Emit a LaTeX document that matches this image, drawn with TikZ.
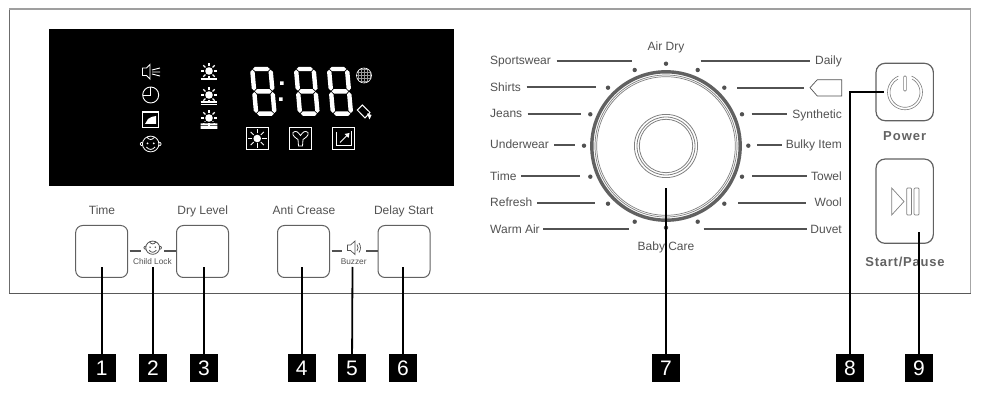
\documentclass[tikz,border=0pt]{standalone}
\usepackage{fontspec}
\setmainfont{Liberation Sans}
\newcommand{\fs}[1]{\fontsize{#1}{#1}\selectfont}
\definecolor{ink}{gray}{0.32}
\definecolor{rim}{gray}{0.38}
\tikzset{
 lab/.style={inner sep=0pt,text=ink,font=\fs{12},anchor=base},
 labl/.style={lab,anchor=base west},
 labr/.style={lab,anchor=base east},
 tick/.style={draw=ink,line width=2pt},
 keybox/.style={draw=rim,line width=1pt,rounded corners=7pt,fill=white,inner sep=0pt},
 tagbox/.style={fill=black,text=white,minimum size=28pt,inner sep=0pt,font=\fs{21}},
 lead/.style={draw=black,line width=1.8pt},
 dialdot/.style={fill=ink,circle,inner sep=0pt,minimum size=4.4pt},
 lcd/.style={draw=white,line width=0.9pt},
}
% sun icon: x,y,body radius,ray outer radius,ray width
\newcommand{\sunicon}[5]{%
 \fill[white] (#1,#2) circle (#3);
 \foreach \a in {0,45,...,315}{\draw[white,line width=#5pt] (#1,#2) ++(\a:#3+1.2) -- ++(\a:#4-#3-1.2);}
}
% baby face
\newcommand{\babyface}[4]{%
 \begin{scope}[shift={(#1,#2)},scale=#3]
 \draw[#4,line width=0.8pt] (0,0) ellipse (6.6 and 6.3);
 \draw[#4,line width=0.8pt] (-6.4,-1.5) .. controls (-9,-1.5) and (-9,1.5) .. (-6.4,1.5);
 \draw[#4,line width=0.8pt] (6.4,-1.5) .. controls (9,-1.5) and (9,1.5) .. (6.4,1.5);
 \draw[#4,line width=0.8pt] (-3.5,2.4) .. controls (-1,5) and (1,5) .. (3.5,2.4);
 \fill[#4] (-2.5,-0.5) circle (0.8) (2.5,-0.5) circle (0.8);
 \draw[#4,line width=0.8pt] (-3,-5.4) .. controls (-1,-3) and (1,-3) .. (3,-5.4);
 \end{scope}}
% seven segment 8
\def\segt{2.2}
\newcommand{\hseg}[3]{\fill[white] (#1,#3) -- (#1+\segt,#3-\segt) -- (#2-\segt,#3-\segt) -- (#2,#3) -- (#2-\segt,#3+\segt) -- (#1+\segt,#3+\segt) -- cycle;}
\newcommand{\vseg}[3]{\fill[white] (#1,#2) -- (#1+\segt,#2+\segt) -- (#1+\segt,#3-\segt) -- (#1,#3) -- (#1-\segt,#3-\segt) -- (#1-\segt,#2+\segt) -- cycle;}
\newcommand{\eight}[4]{% x,y,w,h
 \begin{scope}[shift={(#1,#2)},xslant=-0.09]
 \def\w{#3}\def\h{#4}\def\g{0.7}
 \hseg{\g}{\w-\g}{0}
 \hseg{\g}{\w-\g}{\h/2}
 \hseg{\g}{\w-\g}{\h}
 \vseg{0}{\g}{\h/2-\g}
 \vseg{\w}{\g}{\h/2-\g}
 \vseg{0}{\h/2+\g}{\h-\g}
 \vseg{\w}{\h/2+\g}{\h-\g}
 \end{scope}}
% dial option: name, label, anchor kind, label x, y, tick start, tick end, dot x, dot y
\newcommand{\opt}[9]{%
 \node[#3] (#1) at (#4,#5+4) {#2};
 \coordinate (#1a) at (#6,#5);
 \coordinate (#1b) at (#7,#5);
 \draw[tick] (#1a) -- (#1b);
 \node[dialdot] (#1d) at (#8,#9) {};
}
\begin{document}
\begin{tikzpicture}[x=1pt,y=-1pt]
\useasboundingbox (0,0) rectangle (985,403);
\fill[white] (0,0) rectangle (985,403);
% panel outline
\draw[gray!85!black,line width=0.7pt] (9,293.3) -- (9,9);
\draw[gray!75,line width=1.4pt] (9,9) -- (970.7,9);
\draw[gray!70,line width=1.2pt] (970.7,9) -- (970.7,293.3);
\draw[gray!70!black,line width=0.8pt] (9,293.3) -- (970.7,293.3);
% display
\fill[black] (49,29) rectangle (453.7,186);
% left icons
\draw[lcd] (142.5,68) -- (146.5,68) -- (150,64.5) -- (150,79) -- (146.5,75.5) -- (142.5,75.5) -- cycle;
\draw[lcd] (152,70) -- (160,68) (152,72) -- (160,72) (152,74) -- (160,76);
\draw[lcd] (150.7,95) circle (8);
\draw[lcd] (150.7,87) -- (150.7,95) -- (142.7,95);
\draw[lcd,line width=1.1pt] (142.5,112) rectangle (158.8,127.5);
\fill[white] (145,124) -- (148,119) .. controls (151,117) and (154,116) .. (156,116) -- (156,124) -- cycle;
\babyface{150.7}{144}{1.25}{white}
% sun levels
\sunicon{209}{71}{3.8}{8}{1.1}
\draw[white,line width=1.1pt] (200.7,79) -- (217.3,79);
\sunicon{209}{95}{3.8}{8}{1.1}
\draw[white,line width=1.2pt] (200.7,102) -- (217.3,102) (200.7,104.8) -- (217.3,104.8);
\sunicon{209}{118}{3.8}{8}{1.1}
\fill[black] (199,122) rectangle (219,123);
\fill[white] (200.7,123.3) rectangle (217.3,124.8) (200.7,125.6) rectangle (217.3,129);
% digits
\eight{252.2}{69}{18.3}{44.7}
\eight{296}{69}{17.6}{44.7}
\eight{329}{69}{18}{44.7}
\fill[white] (280,81.5) rectangle (283.5,85) (279,97.5) rectangle (282.5,101);
% globe
\begin{scope}[shift={(364,75.5)}]
\begin{scope}
\clip (0,0) circle (7.5);
\foreach \k in {-6,-3,0,3,6}{\draw[gray!80,line width=0.45pt] (\k,-8) -- (\k,8) (-8,\k) -- (8,\k);}
\end{scope}
\draw[white,line width=0.6pt] (0,0) circle (7.5);
\end{scope}
% softener-like icon
\draw[lcd,line width=1pt] (357.3,110) -- (362.3,105) -- (370,112.5) -- (365,118) -- cycle;
\fill[white] (367,113.5) -- (371.5,115) -- (369.5,119.5) -- cycle;
% mode boxes
\draw[lcd] (246,127.7) rectangle (268.3,149.5);
\sunicon{257.2}{138.5}{3.8}{9.3}{0.8}
\draw[lcd] (289.3,127.7) rectangle (311.7,149.5);
\draw[lcd,line width=0.8pt] (293,132.5) .. controls (296,130) and (298,132) .. (300.5,135.5) .. controls (303,132) and (305,130) .. (308,132.5) .. controls (309,136) and (305,138) .. (303,139.5) -- (302.5,146) -- (298.5,146) -- (298,139.5) .. controls (296,138) and (292,136) .. (293,132.5) -- cycle;
\draw[lcd] (332.3,127.7) rectangle (354.7,149.5);
\draw[lcd,line width=0.8pt] (336,132) -- (336,145.5) -- (351,145.5) -- (351,131);
\draw[lcd,line width=0.9pt] (340,142.5) -- (348,134.5);
\fill[white] (349.5,133) -- (344.5,134) -- (348.5,138) -- cycle;
% buttons
\node[keybox,minimum width=52pt,minimum height=52pt] (k1) at (101.7,251.5) {};
\node[keybox,minimum width=52pt,minimum height=52pt] (k3) at (202.5,251.5) {};
\node[keybox,minimum width=52pt,minimum height=52pt] (k4) at (303.5,251.5) {};
\node[keybox,minimum width=52pt,minimum height=52pt] (k6) at (404,251.5) {};
\node[lab] (t1) at (102,215) {Time};
\node[lab] (t3) at (202.7,215) {Dry Level};
\node[lab] (t4) at (304,215) {Anti Crease};
\node[lab] (t6) at (403.7,215) {Delay Start};
% child lock
\babyface{152.7}{247.7}{1.05}{ink}
\node[lab,font=\fs{8.3}] (cl) at (152.4,264.5) {Child Lock};
\coordinate (c1) at (140.7,250.7); \coordinate (c2) at (164.3,250.7);
\draw[tick] (k1.east |- c1) ++(1.5,0) -- (c1);
\draw[tick] (c2) -- (k3.west |- c2);
% buzzer
\draw[ink,line width=0.7pt] (347.5,245) -- (350.5,245) -- (355,241) -- (355,254.5) -- (350.5,250.5) -- (347.5,250.5) -- cycle;
\draw[ink,line width=0.7pt] (357,244.5) .. controls (358.5,246.5) and (358.5,249) .. (357,251);
\draw[ink,line width=0.7pt] (359,243) .. controls (361,246) and (361,249.5) .. (359,252.5);
\node[lab,font=\fs{8.3}] (bz) at (353.7,264.5) {Buzzer};
\coordinate (b1) at (342,250.7); \coordinate (b2) at (366,250.7);
\draw[tick] (k4.east |- b1) ++(1.5,0) -- (b1);
\draw[tick] (b2) -- (k6.west |- b2);
% dial
\coordinate (dial) at (666,146);
\draw[rim,line width=3.4pt] (dial) circle (74.2);
\draw[gray,line width=0.7pt] (dial) circle (71);
\draw[gray,line width=0.7pt] (dial) circle (69.3);
\draw[gray,line width=0.8pt] (dial) circle (31.6);
\draw[gray,line width=0.8pt] (dial) circle (29);
\draw[gray,line width=0.8pt] (dial) circle (26.7);
% options
\opt{so}{Sportswear}{labl}{490}{61}{556.7}{632.3}{634.7}{70}
\opt{sh}{Shirts}{labl}{490}{87.5}{526.7}{595.7}{608}{87.7}
\opt{je}{Jeans}{labl}{490}{114}{527.7}{580.7}{590.3}{114.3}
\opt{un}{Underwear}{labl}{490}{145}{554}{575}{584}{145.7}
\opt{ti}{Time}{labl}{490}{176.3}{521}{580}{590.3}{176.7}
\opt{re}{Refresh}{labl}{490}{203}{537.3}{595}{608}{203.7}
\opt{wa}{Warm Air}{labl}{490}{229.5}{543.3}{629}{634.7}{221.7}
\opt{da}{Daily}{labr}{842}{61}{700.7}{810}{697.7}{70}
\opt{sy}{Synthetic}{labr}{842}{114.3}{751.7}{786.7}{742}{114.3}
\opt{bu}{Bulky Item}{labr}{842}{145}{757.3}{782.3}{748.3}{145.7}
\opt{to}{Towel}{labr}{842}{176.3}{752.3}{807.3}{742}{176.7}
\opt{wo}{Wool}{labr}{842}{203}{738}{806}{724.3}{203.7}
\opt{du}{Duvet}{labr}{842}{229.5}{703.7}{806.7}{697.7}{221.7}
% tag symbol option
\coordinate (tga) at (737,87.7); \coordinate (tgb) at (804,87.7);
\draw[tick] (tga) -- (tgb);
\node[dialdot] (tgd) at (724.3,87.7) {};
\draw[ink,line width=0.7pt] (810,87.7) -- (817.3,79.7) -- (841.7,79.7) -- (841.7,96) -- (817.3,96) -- cycle;
% top/bottom options
\node[lab] (ad) at (666,50.7) {Air Dry};
\node[dialdot] (add) at (666,63.7) {};
\node[lab] (bc) at (666,250.7) {Baby Care};
\node[dialdot] (bcd) at (666,227.7) {};
% power / start
\node[keybox,line width=1.2pt,minimum width=57.3pt,minimum height=57.4pt,rounded corners=9pt] (pw) at (904.7,92) {};
\node[keybox,line width=1.2pt,minimum width=57.3pt,minimum height=84.3pt,rounded corners=9pt] (sp) at (904.7,201.2) {};
\draw[gray,line width=0.6pt] (905,92.3) ++(-68:17.5) arc (-68:248:17.5);
\draw[gray,line width=0.6pt] (905,92.3) ++(-62:15) arc (-62:242:15);
\draw[gray,line width=0.6pt,rounded corners=1pt] (903.6,76) rectangle (906.4,91);
\draw[gray,line width=0.7pt] (891.7,188) -- (904,201.5) -- (891.7,215) -- cycle;
\draw[gray,line width=0.7pt,rounded corners=1pt] (906.7,188) rectangle (911.5,215) (914,188) rectangle (919,215);
\node[lab,font=\bfseries\fs{13},text=ink!90] (pwt) at (904.7,140.3) {\addfontfeature{LetterSpace=8}Power};
\node[lab,font=\bfseries\fs{13},text=ink!90] (spt) at (905,266.3) {\addfontfeature{LetterSpace=6}Start/Pause};
% number tags
\node[tagbox] (n1) at (101.7,368) {1};
\node[tagbox] (n2) at (153,368) {2};
\node[tagbox] (n3) at (204,368) {3};
\node[tagbox] (n4) at (301.7,368) {4};
\node[tagbox] (n5) at (352,368) {5};
\node[tagbox] (n6) at (403,368) {6};
\node[tagbox] (n7) at (666,368) {7};
\node[tagbox] (n8) at (850,368) {8};
\node[tagbox] (n9) at (919,368) {9};
% leaders
\coordinate (e1) at (101.7,267); \coordinate (e2) at (153,267); \coordinate (e3) at (204,267);
\coordinate (e4) at (301.7,267); \coordinate (e5) at (352.5,267); \coordinate (e6) at (403,267);
\coordinate (e7) at (666,188); \coordinate (e8) at (884,92); \coordinate (e9) at (919,232);
\draw[lead] (n1) -- (e1);
\draw[lead] (n2) -- (e2);
\draw[lead] (n3) -- (e3);
\draw[lead] (n4) -- (e4);
\draw[lead] (n5) -- (e5);
\draw[lead] (n6) -- (e6);
\draw[lead] (n7) -- (e7);
\draw[lead] (n8) |- (e8);
\draw[lead] (n9) -- (e9);
\end{tikzpicture}
\end{document}
